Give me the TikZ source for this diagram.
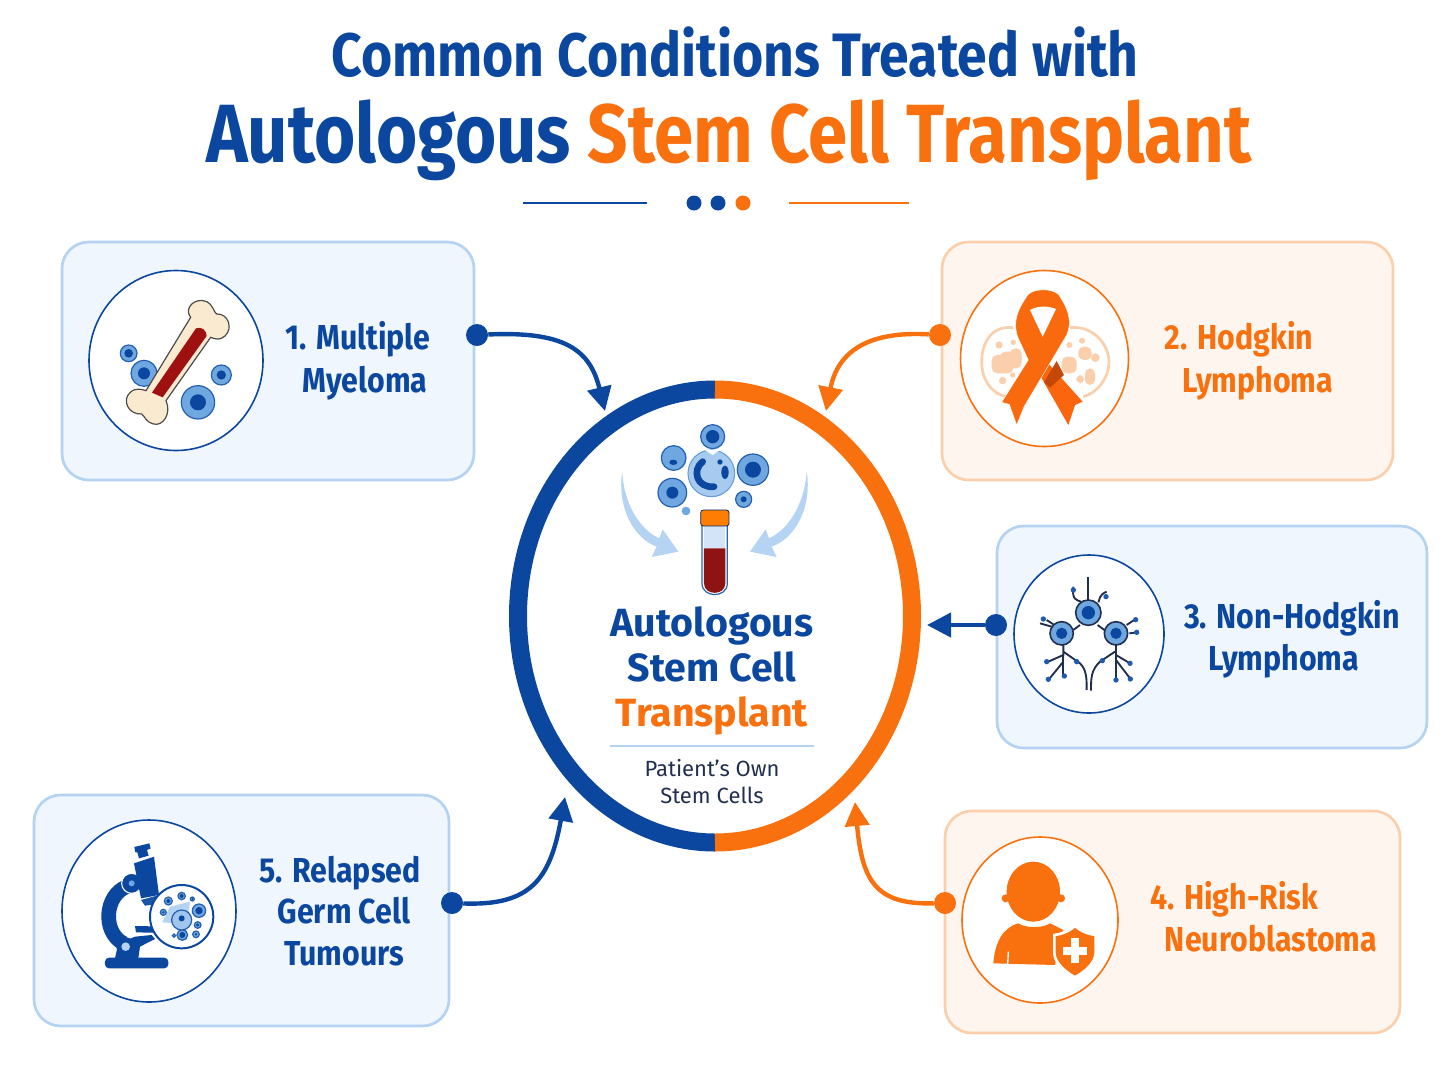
\documentclass[tikz,border=0pt]{standalone}
\usepackage{fontspec}
\setmainfont{Fira Sans}
\newfontfamily\topfont[FakeStretch=0.872]{Fira Sans}
\newfontfamily\mainfont[FakeStretch=0.855]{Fira Sans}
\newfontfamily\itemfont[FakeStretch=0.875]{Fira Sans}
\newfontfamily\hubfont[FakeStretch=1.0]{Fira Sans}
\usetikzlibrary{arrows.meta}
\definecolor{navy}{RGB}{11,71,158}
\definecolor{tang}{RGB}{249,112,15}
\definecolor{paleblue}{RGB}{239,246,254}
\definecolor{edgeblue}{RGB}{180,210,242}
\definecolor{paleorange}{RGB}{254,245,238}
\definecolor{edgeorange}{RGB}{251,207,171}
\definecolor{midblue}{RGB}{111,167,224}
\definecolor{skyblue}{RGB}{181,211,243}
\definecolor{blood}{RGB}{142,20,20}
\definecolor{bonecream}{RGB}{250,234,208}
\definecolor{inkdark}{RGB}{33,47,79}
\definecolor{folddark}{RGB}{196,72,10}
\tikzset{
	bluecard/.style={draw=edgeblue,fill=paleblue,line width=2pt,rounded corners=20pt},
	orangecard/.style={draw=edgeorange,fill=paleorange,line width=2pt,rounded corners=20pt},
	bluedisc/.style={draw=navy,fill=white,line width=1.2pt},
	orangedisc/.style={draw=tang,fill=white,line width=1.2pt},
	bluedot/.style={circle,fill=navy,inner sep=0pt,minimum size=16.5pt},
	orangedot/.style={circle,fill=tang,inner sep=0pt,minimum size=16.5pt},
	bluelink/.style={draw=navy,line width=3.3pt,-{Triangle[length=18pt,width=18pt]}},
	orangelink/.style={draw=tang,line width=3.3pt,-{Triangle[length=18pt,width=18pt]}},
	itemtext/.style={anchor=base,inner sep=0pt,font=\itemfont\fontsize{26}{26}\selectfont\bfseries},
	centertext/.style={anchor=base,inner sep=0pt,font=\hubfont\fontsize{29.5}{30}\selectfont\bfseries},
	smalltext/.style={anchor=base,inner sep=0pt,text=inkdark,font=\fontsize{16.5}{17}\selectfont},
	cellbody/.style={draw=navy!75!midblue,fill=midblue,line width=0.9pt},
}
\newcommand{\cellblob}[4]{\draw[cellbody] (#1,#2) circle (#3); \fill[navy] (#1,#2) circle (#4);}
\begin{document}
\begin{tikzpicture}[x=0.75pt,y=0.75pt,yscale=-1]
	\useasboundingbox (0,0) rectangle (1448,1086);
	
	% Text Node
	\node (titleTop) [anchor=base,inner sep=0pt,text=navy,font=\topfont\fontsize{46}{46}\selectfont\bfseries] at (735,76) {Common Conditions Treated with};
	% Text Node
	\node (titleMain) [anchor=base,inner sep=0pt,font=\mainfont\fontsize{62}{62}\selectfont\bfseries] at (729,162) {\textcolor{navy}{Autologous} \textcolor{tang}{Stem Cell Transplant}};
	%Straight Lines
	\draw [navy,line width=2.2pt] (523,203) -- (647,203);
	\draw [tang,line width=2.2pt] (789,203) -- (909,203);
	%Shape: Circle
	\fill [navy] (694,203) circle (7.5);
	\fill [navy] (718,203) circle (7.5);
	\fill [tang] (743,203) circle (7.5);
	
	%Shape: Cards
	\draw [bluecard] (62,242) rectangle (474,480);
	\draw [orangecard] (942,242) rectangle (1393,480);
	\draw [bluecard] (997,526) rectangle (1427,748);
	\draw [orangecard] (945,811) rectangle (1400,1033);
	\draw [bluecard] (34,795) rectangle (449,1026);
	%Shape: Circle
	\draw [bluedisc] (176,360.5) ellipse [x radius=87,y radius=90];
	\draw [orangedisc] (1044.5,358.5) ellipse [x radius=84,y radius=88];
	\draw [bluedisc] (1089,634) ellipse [x radius=75,y radius=79];
	\draw [orangedisc] (1040,920) ellipse [x radius=78,y radius=83];
	\draw [bluedisc] (149,911) ellipse [x radius=87,y radius=91];
	
	%Shape: Ring
	\draw [navy,line width=13.5pt] (715,389.5) arc [start angle=-90,end angle=-270,x radius=197,y radius=226.5];
	\draw [tang,line width=13.5pt] (715,389.5) arc [start angle=-90,end angle=90,x radius=197,y radius=226.5];
	
	%Connectors
	\node (dotOne) [bluedot] at (477,335) {};
	\coordinate (tipOne) at (605,411);
	\draw [bluelink] (dotOne) .. controls (565,331) and (590,350) .. (tipOne);
	\node (dotTwo) [orangedot] at (940,335) {};
	\coordinate (tipTwo) at (826,411);
	\draw [orangelink] (dotTwo) .. controls (870,331) and (838,350) .. (tipTwo);
	\node (dotThree) [bluedot] at (996,625) {};
	\coordinate (tipThree) at (927,625);
	\draw [bluelink] (dotThree) -- (tipThree);
	\node (dotFour) [orangedot] at (945,903) {};
	\coordinate (tipFour) at (855,802);
	\draw [orangelink] (dotFour) .. controls (875,905) and (862,880) .. (tipFour);
	\node (dotFive) [bluedot] at (452,903) {};
	\coordinate (tipFive) at (565,797);
	\draw [bluelink] (dotFive) .. controls (530,906) and (550,880) .. (tipFive);
	
	% Text Node
	\node (itemOneA) [itemtext,text=navy] at (358,349) {1. Multiple};
	\node (itemOneB) [itemtext,text=navy] at (365,392) {Myeloma};
	\node (itemTwoA) [itemtext,text=tang] at (1239,349) {2. Hodgkin};
	\node (itemTwoB) [itemtext,text=tang] at (1258,392) {Lymphoma};
	\node (itemThreeA) [itemtext,text=navy] at (1292,628) {3. Non-Hodgkin};
	\node (itemThreeB) [itemtext,text=navy] at (1284,670) {Lymphoma};
	\node (itemFourA) [itemtext,text=tang] at (1234,909) {4. High-Risk};
	\node (itemFourB) [itemtext,text=tang] at (1271,951) {Neuroblastoma};
	\node (itemFiveA) [itemtext,text=navy] at (340,882) {5. Relapsed};
	\node (itemFiveB) [itemtext,text=navy] at (344,923) {Germ Cell};
	\node (itemFiveC) [itemtext,text=navy] at (344,965) {Tumours};
	
	% Text Node
	\node (centerA) [centertext,text=navy] at (712,636) {Autologous};
	\node (centerB) [centertext,text=navy] at (712,681) {Stem Cell};
	\node (centerC) [centertext,text=tang] at (712,726) {Transplant};
	%Straight Lines
	\draw [edgeblue,line width=1.2pt] (610,746) -- (814,746);
	% Text Node
	\node (ownA) [smalltext] at (712,776) {Patient’s Own};
	\node (ownB) [smalltext] at (712,803) {Stem Cells};
	
	%Icon: bone
	\begin{scope}[shift={(60,240)},scale=0.3333]
		\foreach \cx/\cy/\cr/\nr in {206/340/25/13,252/400/39/18,484/405/30/14,414/487/50/24} {
			\cellblob{\cx}{\cy}{\cr}{\nr}
		}
		\draw [fill=bonecream,draw=black!70,line width=0.9pt] (392,232) .. controls (370,205) and (405,170) .. (440,185) .. controls (460,195) and (460,215) .. (470,222) .. controls (505,220) and (520,265) .. (495,288) .. controls (480,302) and (465,297) .. (452,292) -- (318,482) .. controls (335,520) and (310,560) .. (280,552) .. controls (260,548) and (255,530) .. (245,522) .. controls (205,525) and (185,480) .. (210,458) .. controls (225,442) and (245,448) .. (258,452) -- cycle;
		\fill [blood!85!red] (408,265) .. controls (425,258) and (440,272) .. (440,288) -- (308,472) -- (276,458) -- cycle;
	\end{scope}
	
	%Icon: stem cells and tube
	\begin{scope}[shift={(590,410)},scale=0.3333]
		\fill [skyblue] (97,183) .. controls (80,290) and (130,385) .. (200,410) -- (185,441) -- (265,425) -- (218,358) -- (208,385) .. controls (150,360) and (100,280) .. (97,183) -- cycle;
		\fill [skyblue] (650,183) .. controls (667,290) and (617,385) .. (545,410) -- (560,441) -- (480,425) -- (527,358) -- (537,385) .. controls (595,360) and (645,280) .. (650,183) -- cycle;
		\foreach \cx/\cy/\cr/\nr in {368/80/36/20,247/248/43/18,489/179/47/24,461/268/24/9} {
			\cellblob{\cx}{\cy}{\cr}{\nr}
		}
		\cellblob{251}{144}{37}{0}
		\fill [navy] (250,157) ellipse [x radius=12,y radius=8];
		\fill [midblue] (288,303) circle (13);
		\draw [draw=midblue!90!navy,fill=skyblue!80!midblue,line width=0.8pt] (364,190) circle (70);
		\fill [white] (345,120) -- (368,135) -- (390,120) -- cycle;
		\draw [navy,line width=5pt,line cap=round] (338,155) .. controls (305,180) and (320,235) .. (372,230);
		\fill [navy] (405,187) ellipse [x radius=11,y radius=20];
		\fill [navy] (390,156) circle (8);
		\draw [draw=navy!70!midblue,fill=white,line width=0.9pt] (336,345) -- (412,345) -- (412,520) .. controls (412,565) and (336,565) .. (336,520) -- cycle;
		\fill [skyblue!60!white] (342,345) rectangle (406,415);
		\fill [blood] (342,415) -- (406,415) -- (406,520) .. controls (406,558) and (342,558) .. (342,520) -- cycle;
		\draw [draw=navy!60!black,fill=orange!85!tang,line width=0.6pt,rounded corners=2pt] (332,300) rectangle (417,348);
	\end{scope}
	
	%Icon: ribbon
	\begin{scope}[shift={(950,265)},scale=0.3333]
		\draw [edgeorange,line width=2pt] (190,188) .. controls (120,180) and (95,240) .. (95,290) .. controls (95,340) and (120,385) .. (170,395);
		\draw [edgeorange,line width=2pt] (360,188) .. controls (430,180) and (477,240) .. (477,290) .. controls (477,340) and (440,385) .. (400,395);
		\foreach \bx/\by/\bw/\bh in {125/270/65/55,150/260/65/50,180/250/35/50,335/275/45/50,385/245/40/40,378/330/25/25,405/310/30/50} {
			\fill [edgeorange,rounded corners=4pt] (\bx,\by) rectangle ++(\bw,\bh);
		}
		\foreach \bx/\by/\br in {147/240/11,158/347/11,190/232/8,188/330/8,358/240/9,396/227/9,436/278/13} {
			\fill [edgeorange] (\bx,\by) circle (\br);
		}
		\fill [tang!90!red] (200,190) -- (398,410) -- (375,420) -- (355,480) -- (282,352) -- (210,225) -- cycle;
		\fill [folddark] (320,288) -- (342,330) -- (300,368) -- (282,352) -- cycle;
		\fill [tang!95!red,draw=white,line width=0.3pt] (155,412) -- (235,285) -- (205,220) .. controls (185,170) and (205,130) .. (235,88) .. controls (255,70) and (305,70) .. (325,88) .. controls (350,125) and (370,165) .. (350,210) -- (222,425) -- (200,480) -- (178,418) -- cycle;
		\fill [white] (240,135) .. controls (262,122) and (295,122) .. (318,132) -- (278,215) -- cycle;
	\end{scope}
	
	%Icon: lymph cells
	\begin{scope}[shift={(1005,545)},scale=0.3333,line width=1.4pt,draw=inkdark]
		\draw (250,95) -- (250,165);
		\draw (205,255) -- (225,240);
		\draw (278,240) -- (298,255);
		\draw (175,300) -- (175,330) -- (130,350);
		\draw (175,330) -- (175,395);
		\draw (175,350) -- (130,405);
		\draw (175,320) -- (225,355) .. controls (245,375) and (245,400) .. (245,435);
		\draw (333,300) -- (333,410);
		\draw (333,330) -- (375,355);
		\draw (333,345) -- (375,400);
		\draw (333,318) -- (285,350) .. controls (258,375) and (258,400) .. (258,437);
		\draw (105,235) -- (140,245);
		\draw (125,225) -- (145,238);
		\draw (365,240) -- (392,222);
		\draw (373,265) -- (398,262);
		\draw (205,125) .. controls (200,165) and (215,165) .. (228,170);
		\draw (305,140) .. controls (280,150) and (285,165) .. (280,172);
		\foreach \bx/\by in {125/350,130/403,178/393,215/350,292/347,375/355,376/402,333/405,392/224,395/262,115/222,205/135,303/155} {
			\fill [navy!80!midblue] (\bx,\by) circle (8);
		}
		\foreach \cx/\cy/\cr/\nr in {250/203/38/20,170/265/35/17,333/265/35/17} {
			\draw [draw=inkdark,fill=midblue,line width=1.2pt] (\cx,\cy) circle (\cr);
			\fill [navy] (\cx,\cy) circle (\nr);
		}
	\end{scope}
	
	%Icon: microscope
	\begin{scope}[shift={(55,815)},scale=0.3333]
		\draw [navy,line width=11pt] (215,215) .. controls (150,240) and (140,350) .. (205,385);
		\fill [navy,rounded corners=3pt] (150,428) rectangle (340,460);
		\fill [navy] (180,430) -- (190,385) -- (240,365) -- (290,360) -- (300,372) -- (255,395) -- (250,430) -- cycle;
		\draw [fill=navy,draw=white,line width=0.8pt] (230,205) circle (30);
		\fill [midblue] (230,205) circle (9);
		\fill [navy] (212,395) circle (28);
		\fill [skyblue] (212,395) circle (13);
		\fill [navy] (238,96) -- (283,85) -- (287,100) -- (276,105) -- (281,122) -- (252,130) -- (247,112) -- (241,112) -- cycle;
		\fill [navy] (237,145) -- (297,125) -- (312,240) -- (258,250) -- cycle;
		\fill [navy!85!midblue] (258,255) -- (305,242) -- (300,268) -- (270,272) -- cycle;
		\fill [navy] (240,333) -- (345,335) -- (325,354) -- (243,352) -- cycle;
		\draw [fill=white,draw=navy,line width=1.5pt] (380,305) circle (95);
		\fill [skyblue] (322,322) -- (345,275) -- (405,260) -- (400,300) -- (360,325) -- cycle;
		\foreach \cx/\cy/\cr/\nr in {340/258/12/6,380/243/11/6,412/252/6/3,432/287/20/11,325/292/9/4,428/330/10/5,382/360/16/9,423/358/10/4,357/362/5/0} {
			\cellblob{\cx}{\cy}{\cr}{\nr}
		}
		\draw [cellbody,fill=skyblue!70!midblue] (380,315) circle (30);
		\fill [navy] (380,310) circle (9);
	\end{scope}
	
	%Icon: child and shield
	\begin{scope}[shift={(955,830)},scale=0.3333]
		\fill [tang] (152,205) circle (12);
		\fill [tang] (318,205) circle (12);
		\fill [tang] (235,185) ellipse [x radius=80,y radius=90];
		\fill [tang] (115,400) .. controls (120,340) and (140,295) .. (190,280) .. controls (210,295) and (265,295) .. (285,280) -- (325,300) -- (300,405) -- cycle;
		\draw [white,line width=1pt] (160,365) -- (158,405);
		\fill [tang,draw=white,line width=2pt] (360,288) .. controls (340,305) and (320,312) .. (298,315) -- (298,370) .. controls (300,400) and (330,425) .. (360,442) .. controls (390,425) and (420,400) .. (422,370) -- (422,315) .. controls (400,312) and (380,305) .. (360,288) -- cycle;
		\fill [white] (349,325) rectangle (371,400);
		\fill [white] (325,351) rectangle (397,374);
	\end{scope}
\end{tikzpicture}
\end{document}
